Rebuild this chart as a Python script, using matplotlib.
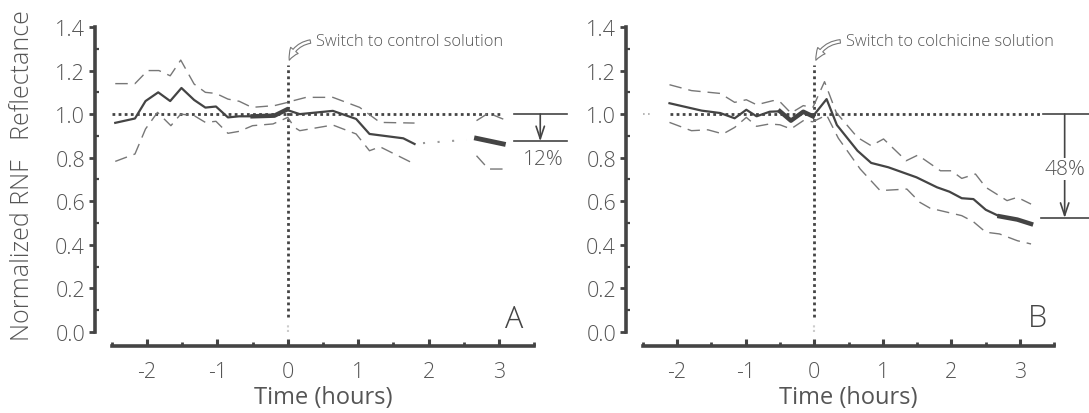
import matplotlib
matplotlib.use("Agg")
import matplotlib.pyplot as plt
from matplotlib.ticker import MultipleLocator

plt.rcParams['font.family'] = ['Open Sans', 'DejaVu Sans']
plt.rcParams['font.weight'] = 'light'

# panel A - control solution
a_mean_t = [-2.45, -2.17, -2.02, -1.84, -1.67, -1.51, -1.33, -1.17, -1.02, -0.85,
            -0.69, -0.50, -0.19, -0.02, 0.17, 0.64, 0.97, 1.16, 1.64, 1.80]
a_mean = [0.96, 0.98, 1.06, 1.10, 1.06, 1.12, 1.065, 1.03, 1.035, 0.985,
          0.99, 0.99, 0.993, 1.02, 1.0, 1.015, 0.978, 0.909, 0.889, 0.863]
a_mean_late_t = [2.68, 3.06]
a_mean_late = [0.889, 0.863]
a_gap_t = [1.92, 2.54]
a_gap = [0.867, 0.882]

a_up_t = [-2.45, -2.17, -1.99, -1.83, -1.67, -1.52, -1.33, -1.17, -1.02, -0.85,
          -0.69, -0.51, -0.19, 0.0, 0.07, 0.26, 0.64, 1.02, 1.31, 1.80]
a_up = [1.14, 1.14, 1.20, 1.20, 1.176, 1.248, 1.138, 1.10, 1.095, 1.069,
        1.059, 1.031, 1.039, 1.054, 1.061, 1.077, 1.077, 1.031, 0.962, 0.959]
a_up_late_t = [2.68, 2.85, 3.06]
a_up_late = [0.97, 1.005, 0.977]

a_lo_t = [-2.45, -2.17, -2.02, -1.85, -1.66, -1.52, -1.33, -1.17, -1.02, -0.85,
          -0.69, -0.50, -0.21, 0.0, 0.095, 0.17, 0.64, 0.97, 1.16, 1.31, 1.80]
a_lo = [0.783, 0.817, 0.932, 1.008, 0.947, 1.0, 0.993, 0.962, 0.967, 0.912,
        0.921, 0.947, 0.955, 0.985, 0.939, 0.924, 0.95, 0.909, 0.832, 0.85, 0.771]
a_lo_late_t = [2.68, 2.85, 3.06]
a_lo_late = [0.809, 0.748, 0.748]

# panel B - colchicine solution
b_mean_t = [-2.11, -1.64, -1.37, -1.16, -0.99, -0.84, -0.65, -0.50, -0.34, -0.16,
            -0.02, 0.18, 0.33, 0.63, 0.83, 1.08, 1.49, 1.79, 1.97, 2.15,
            2.32, 2.50, 2.70, 2.96, 3.16]
b_mean = [1.05, 1.016, 1.005, 0.981, 1.02, 0.99, 1.011, 1.013, 0.97, 1.011,
          0.99, 1.069, 0.95, 0.832, 0.776, 0.756, 0.71, 0.664, 0.644, 0.614,
          0.61, 0.561, 0.531, 0.516, 0.496]

b_up_t = [-2.11, -1.79, -1.37, -1.16, -0.99, -0.84, -0.60, -0.50, -0.34, -0.16,
          -0.02, 0.15, 0.32, 0.63, 0.83, 1.01, 1.34, 1.51, 1.84, 2.0,
          2.15, 2.35, 2.50, 2.81, 2.96, 3.16]
b_up = [1.135, 1.108, 1.095, 1.054, 1.066, 1.043, 1.062, 1.057, 1.005, 1.039,
        1.031, 1.149, 1.008, 0.893, 0.855, 0.886, 0.786, 0.812, 0.740, 0.740,
        0.705, 0.725, 0.664, 0.603, 0.618, 0.587]

b_lo_t = [-2.11, -1.79, -1.55, -1.33, -1.16, -0.99, -0.84, -0.65, -0.50, -0.34,
          -0.16, -0.02, 0.18, 0.35, 0.67, 0.96, 1.35, 1.54, 1.69, 1.84,
          2.15, 2.32, 2.50, 2.70, 2.96, 3.16]
b_lo = [0.962, 0.924, 0.928, 0.909, 0.939, 0.985, 0.944, 0.955, 0.951, 0.932,
        0.97, 0.965, 0.996, 0.89, 0.748, 0.649, 0.656, 0.595, 0.568, 0.557,
        0.534, 0.506, 0.458, 0.45, 0.419, 0.404]

a_drop = 0.875
b_drop = 0.523

dark = '#444444'
grey = '#777777'
txt = '#555555'


def style_axes(ax):
    ax.set_xlim(-2.5, 3.5)
    ax.set_ylim(0, 1.4)
    for s in ['top', 'right']:
        ax.spines[s].set_visible(False)
    ax.spines['left'].set_position(('outward', 12.2))
    ax.spines['bottom'].set_position(('outward', 9.9))
    for s in ['left', 'bottom']:
        ax.spines[s].set_linewidth(2.6)
        ax.spines[s].set_color(dark)
    ax.xaxis.set_major_locator(MultipleLocator(1))
    ax.xaxis.set_minor_locator(MultipleLocator(0.5))
    ax.yaxis.set_major_locator(MultipleLocator(0.2))
    ax.yaxis.set_minor_locator(MultipleLocator(0.1))
    ax.set_xticks([-2, -1, 0, 1, 2, 3])
    ax.set_xticklabels(['-2', '-1', '0', '1', '2', '3'])
    ax.tick_params(axis='x', which='major', direction='in', length=5, width=2.2,
                   color=dark, labelsize=15.5, labelcolor=txt, pad=11)
    ax.tick_params(axis='x', which='minor', direction='in', length=3, width=2,
                   color=dark)
    ax.tick_params(axis='y', which='major', direction='out', length=4, width=2,
                   color=dark, labelsize=15.5, labelcolor=txt, pad=3)
    ax.tick_params(axis='y', which='minor', direction='in', length=3, width=1.6,
                   color=dark)
    ax.yaxis.set_major_formatter(lambda v, p: f'{v:.1f}')
    ax.set_xlabel('Time (hours)', fontsize=17, color=txt, labelpad=2.5)
    # vertical switch line
    ax.plot([0, 0], [0.07, 1.225], color=dark, lw=2, dashes=(1, 1.2))
    ax.plot([0, 0], [0.0, 0.03], color='#cccccc', lw=1.5, dashes=(1, 1.2))


fig = plt.figure(figsize=(10.89, 4.14), dpi=100)
axA = fig.add_axes([0.1026, 0.1957, 0.388, 0.7367])
axB = fig.add_axes([0.5902, 0.1957, 0.378, 0.7367])
style_axes(axA)
style_axes(axB)

# panel A
axA.plot([-2.5, 3.06], [1.0, 1.0], color=dark, lw=2, dashes=(1, 1.2))
axA.plot(a_up_t, a_up, color=grey, lw=1.0, dashes=(9, 5))
axA.plot(a_lo_t, a_lo, color=grey, lw=1.0, dashes=(9, 5))
axA.plot(a_up_late_t, a_up_late, color=grey, lw=1.0, dashes=(9, 5))
axA.plot(a_lo_late_t, a_lo_late, color=grey, lw=1.0, dashes=(9, 5))
axA.plot(a_mean_t, a_mean, color=dark, lw=1.6)
axA.plot(a_mean_t[11:14], a_mean[11:14], color=dark, lw=3.2)
axA.plot(a_gap_t, a_gap, color='#999999', lw=1.5, dashes=(1, 6))
axA.plot(a_mean_late_t, a_mean_late, color=dark, lw=3.5)

axA.annotate('', xy=(0.01, 1.235), xytext=(0.36, 1.335),
             arrowprops=dict(arrowstyle='simple,head_length=0.8,head_width=0.7,tail_width=0.25',
                             fc='white', ec=grey, lw=0.8,
                             connectionstyle='arc3,rad=0.35'))
axA.text(0.40, 1.337, 'Switch to control solution', fontsize=11.8,
         color=txt, va='center', ha='left')

axA.plot([3.21, 3.97], [1.0, 1.0], color=dark, lw=1.2, clip_on=False)
axA.plot([3.21, 3.97], [a_drop, a_drop], color=dark, lw=1.2, clip_on=False)
axA.annotate('', xy=(3.585, a_drop), xytext=(3.585, 1.0), annotation_clip=False,
             arrowprops=dict(arrowstyle='->,head_length=0.9,head_width=0.3',
                             color=dark, lw=1.2, shrinkA=0, shrinkB=0))
axA.text(3.63, 0.794, '12%', fontsize=15, color=txt, ha='center', va='center',
         clip_on=False)
axA.text(3.22, 0.023, 'A', fontsize=22, color=dark, ha='center', va='baseline')

# panel B
axB.plot([-2.5, -2.36], [1.0, 1.0], color='#aaaaaa', lw=1.2, dashes=(1, 2))
axB.plot([-2.1, 3.3], [1.0, 1.0], color=dark, lw=2, dashes=(1, 1.2))
axB.plot(b_up_t, b_up, color=grey, lw=1.0, dashes=(9, 5))
axB.plot(b_lo_t, b_lo, color=grey, lw=1.0, dashes=(9, 5))
axB.plot(b_mean_t, b_mean, color=dark, lw=1.6)
axB.plot(b_mean_t[7:11], b_mean[7:11], color=dark, lw=3.2)
axB.plot(b_mean_t[22:], b_mean[22:], color=dark, lw=3.2)

axB.annotate('', xy=(0.01, 1.235), xytext=(0.42, 1.335),
             arrowprops=dict(arrowstyle='simple,head_length=0.8,head_width=0.7,tail_width=0.25',
                             fc='white', ec=grey, lw=0.8,
                             connectionstyle='arc3,rad=0.35'))
axB.text(0.46, 1.337, 'Switch to colchicine solution', fontsize=11.8,
         color=txt, va='center', ha='left')

axB.plot([3.34, 4.1], [1.0, 1.0], color=dark, lw=1.2, clip_on=False)
axB.plot([3.31, 4.1], [b_drop, b_drop], color=dark, lw=1.2, clip_on=False)
axB.annotate('', xy=(3.65, b_drop), xytext=(3.65, 1.0), annotation_clip=False,
             arrowprops=dict(arrowstyle='->,head_length=0.9,head_width=0.3',
                             color=dark, lw=1.2, shrinkA=0, shrinkB=0))
axB.text(3.66, 0.748, '48%', fontsize=15, color=txt, ha='center', va='center',
         clip_on=False, bbox=dict(fc='white', ec='none', pad=1))
axB.text(3.26, 0.028, 'B', fontsize=22, color=dark, ha='center', va='baseline')

fig.text(0.021, 0.575, 'Normalized RNF   Reflectance', rotation=90, fontsize=18,
         color=txt, ha='center', va='center')

fig.savefig('out.png', dpi=100)
